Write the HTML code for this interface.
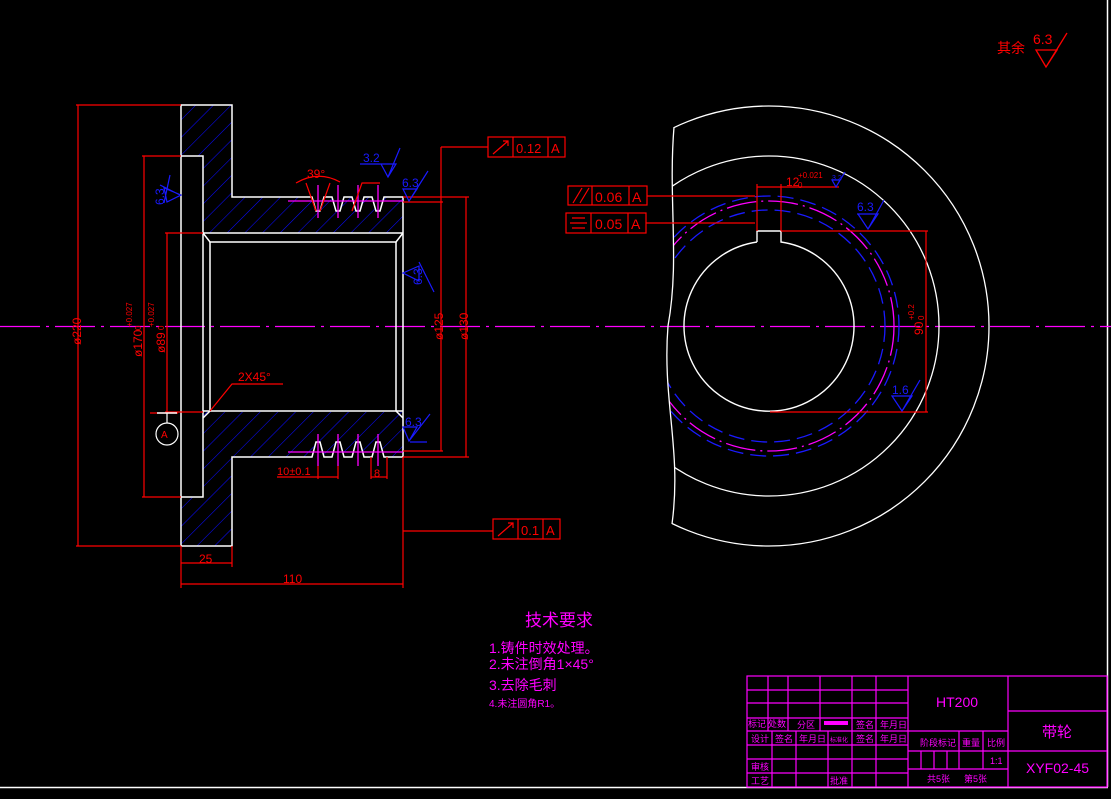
<!DOCTYPE html>
<html><head><meta charset="utf-8"><style>
html,body{margin:0;padding:0;background:#000;}
svg{display:block;}
text{font-family:"Liberation Sans","Noto Sans CJK SC",sans-serif;}
</style></head><body>
<svg width="1111" height="799" viewBox="0 0 1111 799" xmlns="http://www.w3.org/2000/svg">
<defs>
<pattern id="h" patternUnits="userSpaceOnUse" width="12.5" height="12.5" patternTransform="rotate(45)">
<line x1="0" y1="0" x2="0" y2="12.5" stroke="#0a0aff" stroke-width="1.1"/>
</pattern>
<clipPath id="rc"><path d="M674,100 L674,127 C668,200 680,260 668,326 C662,400 682,450 672,524 L672,560 L1000,560 L1000,100 Z"/></clipPath>
</defs>
<rect width="1111" height="799" fill="#000"/>
<line x1="1107.5" y1="0" x2="1107.5" y2="787" stroke="#fff" stroke-width="1.5"/>
<line x1="0" y1="787.5" x2="1108" y2="787.5" stroke="#fff" stroke-width="1.5"/>

<line x1="0" y1="326.5" x2="1111" y2="326.5" stroke="#ff00ff" stroke-width="1.3" stroke-dasharray="40,6,3,6"/>

<path d="M181,105 L232,105 L232,197 L403,197 L403,233 L203,233 L203,156 L181,156 Z" fill="url(#h)"/>
<path d="M181,546 L232,546 L232,457 L403,457 L403,412 L203,412 L203,497 L181,497 Z" fill="url(#h)"/>
<path d="M312,197 L316,211 L320,211 L324,197 L332,197 L336,211 L340,211 L344,197 L352,197 L356,211 L360,211 L364,197 L372,197 L376,211 L380,211 L384,197 Z" fill="#000"/>
<path d="M312,457 L316,442 L320,442 L324,457 L332,457 L336,442 L340,442 L344,457 L352,457 L356,442 L360,442 L364,457 L372,457 L376,442 L380,442 L384,457 Z" fill="#000"/>

<g stroke="#fff" stroke-width="1.5" fill="none">
<path d="M181,105 L232,105 L232,197 L312,197 L316,211 L320,211 L324,197 L332,197 L336,211 L340,211 L344,197 L352,197 L356,211 L360,211 L364,197 L372,197 L376,211 L380,211 L384,197 L403,197 L403,457 L384,457 L380,442 L376,442 L372,457 L364,457 L360,442 L356,442 L352,457 L344,457 L340,442 L336,442 L332,457 L324,457 L320,442 L316,442 L312,457 L232,457 L232,546 L181,546 Z"/>
<path d="M181,156 L203,156 L203,497 L181,497"/>
<line x1="203" y1="233" x2="403" y2="233"/>
<line x1="203" y1="411" x2="403" y2="411"/>
<path d="M203,233 L210,242 L396,242 L403,233"/>
<line x1="210" y1="242" x2="210" y2="411"/>
<line x1="396" y1="242" x2="396" y2="411"/>
<path d="M210,411 L203,418"/><path d="M396,411 L403,418"/>
</g>
<g stroke="#ff00ff" stroke-width="1.3">
<line x1="288" y1="201" x2="403" y2="201"/>
<line x1="288" y1="452" x2="403" y2="452"/>
<line x1="318" y1="185" x2="318" y2="218"/><line x1="338" y1="185" x2="338" y2="218"/>
<line x1="358" y1="185" x2="358" y2="218"/><line x1="378" y1="185" x2="378" y2="218"/>
<line x1="318" y1="434" x2="318" y2="466"/><line x1="338" y1="434" x2="338" y2="466"/>
<line x1="358" y1="434" x2="358" y2="466"/><line x1="378" y1="434" x2="378" y2="466"/>
</g>

<g stroke="#ff0000" stroke-width="1.2" fill="none">
<line x1="76" y1="105" x2="181" y2="105"/><line x1="76" y1="546" x2="181" y2="546"/>
<line x1="78" y1="105" x2="78" y2="546"/>
<line x1="142" y1="156" x2="181" y2="156"/><line x1="142" y1="497" x2="181" y2="497"/>
<line x1="144" y1="156" x2="144" y2="497"/>
<line x1="165" y1="233" x2="203" y2="233"/><line x1="165" y1="412" x2="203" y2="412"/>
<line x1="167" y1="233" x2="167" y2="412"/>
<line x1="403" y1="202" x2="443" y2="202"/><line x1="403" y1="451" x2="443" y2="451"/>
<line x1="441" y1="147" x2="441" y2="451"/>
<line x1="441" y1="147" x2="488" y2="147"/>
<line x1="403" y1="197" x2="469" y2="197"/><line x1="403" y1="457" x2="469" y2="457"/>
<line x1="466" y1="197" x2="466" y2="457"/>
<line x1="403" y1="457" x2="403" y2="588"/>
<line x1="403" y1="531" x2="493" y2="531"/>
<line x1="181" y1="546" x2="181" y2="588"/><line x1="232" y1="546" x2="232" y2="567"/>
<line x1="181" y1="563" x2="232" y2="563"/>
<line x1="181" y1="584" x2="403" y2="584"/>
<path d="M210,411 L232,384 L283,384"/>
<path d="M296,183 Q318,170 340,182"/>
<line x1="306" y1="183" x2="316" y2="211"/><line x1="330" y1="183" x2="320" y2="211"/>
<path d="M352,211 L362,183 L380,183"/>
<line x1="318" y1="466" x2="318" y2="479"/><line x1="338" y1="466" x2="338" y2="479"/>
<line x1="277" y1="477" x2="338" y2="477"/>
<line x1="371" y1="457" x2="371" y2="479"/><line x1="387" y1="457" x2="387" y2="479"/>
<line x1="371" y1="477" x2="387" y2="477"/>
<line x1="150" y1="413" x2="178" y2="413"/>
<rect x="488" y="137" width="77" height="20"/>
<line x1="513" y1="137" x2="513" y2="157"/><line x1="548" y1="137" x2="548" y2="157"/>
<path d="M493,154 L508,141 M503,141 L508,141 L508,146"/>
<rect x="493" y="519" width="67" height="20"/>
<line x1="518" y1="519" x2="518" y2="539"/><line x1="543" y1="519" x2="543" y2="539"/>
<path d="M498,536 L513,523 M508,523 L513,523 L513,528"/>
</g>
<circle cx="167" cy="434" r="11" stroke="#fff" stroke-width="1.2" fill="none"/>
<line x1="157" y1="413" x2="177" y2="413" stroke="#fff" stroke-width="1.5"/>
<line x1="167" y1="413" x2="167" y2="423" stroke="#fff" stroke-width="1.2"/>
<g fill="#ff0000" font-size="12">
<text x="161" y="438" font-size="10">A</text>
<text transform="translate(81,345) rotate(-90)">ø220</text>
<text transform="translate(142,357) rotate(-90)">ø170</text>
<text transform="translate(132,327) rotate(-90)" font-size="8">+0.027</text>
<text transform="translate(141,330) rotate(-90)" font-size="8">0</text>
<text transform="translate(165,353) rotate(-90)">ø89</text>
<text transform="translate(154,327) rotate(-90)" font-size="8">+0.027</text>
<text transform="translate(164,330) rotate(-90)" font-size="8">0</text>
<text transform="translate(443,340) rotate(-90)">ø125</text>
<text transform="translate(468,340) rotate(-90)">ø130</text>
<text x="238" y="381">2X45°</text>
<text x="307" y="178">39°</text>
<text x="277" y="475" font-size="11">10±0.1</text>
<text x="374" y="477" font-size="11">8</text>
<text x="199" y="563">25</text>
<text x="283" y="583">110</text>
<text x="516" y="153" font-size="13">0.12</text><text x="551" y="153" font-size="13">A</text>
<text x="521" y="535" font-size="13">0.1</text><text x="546" y="535" font-size="13">A</text>
</g>
<g stroke="#1a1aff" stroke-width="1.2" fill="none">
<path d="M181,195 L164,188 L167,202 Z M164,203 L170,175 M160,185 L180,195"/>
<path d="M381,164 L388,177 L396,164 Z M388,177 L400,148 M360,164 L396,164"/>
<path d="M403,189 L409,201 L417,189 Z M409,201 L428,171"/>
<path d="M403,273 L419,266 L419,281 Z M419,262 L434,292"/>
<path d="M403,427 L409,441 L417,427 Z M409,441 L430,414 M410,442 L427,442"/>
</g>
<g fill="#1a1aff" font-size="12">
<text transform="translate(164,205) rotate(-90)">6.3</text>
<text x="363" y="162">3.2</text>
<text x="402" y="187">6.3</text>
<text transform="translate(422,285) rotate(-90)">6.3</text>
<text x="405" y="426">6.3</text>
</g>

<g clip-path="url(#rc)" fill="none">
<circle cx="769" cy="326" r="220" stroke="#fff" stroke-width="1.3"/>
<circle cx="769" cy="326" r="170" stroke="#fff" stroke-width="1.3"/>
<circle cx="769" cy="326" r="130" stroke="#1a1aff" stroke-width="1.3" stroke-dasharray="16,7"/>
<circle cx="769" cy="326" r="116" stroke="#1a1aff" stroke-width="1.3" stroke-dasharray="16,7"/>
<circle cx="769" cy="326" r="125" stroke="#ff00ff" stroke-width="1.3" stroke-dasharray="30,5,2,5"/>
</g>
<path d="M674,127 C668,200 680,260 668,326 C662,400 682,450 672,524" stroke="#fff" stroke-width="1.3" fill="none"/>
<path d="M757,242 L757,231 L781,231 L781,242 A85,85 0 1 1 757,242" stroke="#fff" stroke-width="1.4" fill="none"/>
<g stroke="#ff0000" stroke-width="1.2" fill="none">
<line x1="757" y1="184" x2="757" y2="231"/><line x1="781" y1="184" x2="781" y2="231"/>
<line x1="757" y1="187" x2="839" y2="187"/>
<line x1="781" y1="231" x2="928" y2="231"/><line x1="770" y1="412" x2="928" y2="412"/>
<line x1="926" y1="231" x2="926" y2="412"/>
<rect x="568" y="186" width="79" height="19"/>
<line x1="592" y1="186" x2="592" y2="205"/><line x1="629" y1="186" x2="629" y2="205"/>
<line x1="647" y1="196" x2="755" y2="196"/>
<rect x="566" y="213" width="80" height="20"/>
<line x1="591" y1="213" x2="591" y2="233"/><line x1="628" y1="213" x2="628" y2="233"/>
<line x1="646" y1="223" x2="755" y2="223"/>
<path d="M573,203 L582,188 M580,203 L589,188"/>
<path d="M572,218 L585,218 M570,223 L587,223 M572,228 L585,228"/>
</g>
<g fill="#ff0000">
<text x="595" y="202" font-size="14">0.06</text><text x="632" y="202" font-size="14">A</text>
<text x="595" y="229" font-size="14">0.05</text><text x="631" y="229" font-size="14">A</text>
<text x="786" y="186" font-size="12">12</text>
<text x="798" y="178" font-size="8">+0.021</text>
<text x="798" y="188" font-size="8">0</text>
<text transform="translate(923,335) rotate(-90)" font-size="12">90</text>
<text transform="translate(914,320) rotate(-90)" font-size="8">+0.2</text>
<text transform="translate(924,320) rotate(-90)" font-size="8">0</text>
<text x="997" y="53" font-size="14">其余</text>
<text x="1033" y="44" font-size="14">6.3</text>
</g>
<path d="M1036,50 L1046,67 L1057,50 Z M1046,67 L1067,33" stroke="#ff0000" stroke-width="1.3" fill="none"/>
<g stroke="#1a1aff" stroke-width="1.2" fill="none">
<path d="M832,180 L836,187 L840,180 Z M836,187 L845,172"/>
<path d="M858,214 L868,229 L878,214 Z M868,229 L884,200 M857,214 L878,214"/>
<path d="M892,396 L902,411 L912,396 Z M902,411 L920,380"/>
</g>
<g fill="#1a1aff">
<text x="832" y="180" font-size="7">3.2</text>
<text x="857" y="211" font-size="12">6.3</text>
<text x="892" y="394" font-size="12">1.6</text>
</g>

<g fill="#ff00ff">
<text x="525" y="626" font-size="17">技术要求</text>
<text x="489" y="653" font-size="14">1.铸件时效处理。</text>
<text x="489" y="669" font-size="14">2.未注倒角1×45°</text>
<text x="489" y="690" font-size="14">3.去除毛刺</text>
<text x="489" y="707" font-size="10">4.未注圆角R1。</text>
</g>

<g stroke="#ff00ff" stroke-width="1.2" fill="none">
<rect x="747" y="676" width="360" height="111"/>
<line x1="747" y1="690" x2="908" y2="690"/><line x1="747" y1="703" x2="908" y2="703"/>
<line x1="747" y1="718" x2="908" y2="718"/><line x1="747" y1="731" x2="1008" y2="731"/>
<line x1="747" y1="745" x2="908" y2="745"/><line x1="747" y1="759" x2="908" y2="759"/>
<line x1="747" y1="773" x2="908" y2="773"/>
<line x1="768" y1="676" x2="768" y2="731"/><line x1="788" y1="676" x2="788" y2="731"/>
<line x1="820" y1="676" x2="820" y2="731"/>
<line x1="852" y1="676" x2="852" y2="787"/><line x1="876" y1="676" x2="876" y2="787"/>
<line x1="908" y1="676" x2="908" y2="787"/>
<line x1="772" y1="731" x2="772" y2="787"/><line x1="796" y1="731" x2="796" y2="787"/>
<line x1="828" y1="731" x2="828" y2="787"/>
<line x1="908" y1="751" x2="1008" y2="751"/><line x1="908" y1="769" x2="1008" y2="769"/>
<line x1="959" y1="731" x2="959" y2="769"/><line x1="983" y1="731" x2="983" y2="769"/>
<line x1="921" y1="751" x2="921" y2="769"/><line x1="934" y1="751" x2="934" y2="769"/><line x1="947" y1="751" x2="947" y2="769"/>
<line x1="1008" y1="676" x2="1008" y2="787"/>
<line x1="1008" y1="711" x2="1107" y2="711"/><line x1="1008" y1="751" x2="1107" y2="751"/>
</g>
<rect x="824" y="721" width="24" height="4" fill="#ff00ff"/>
<g fill="#ff00ff" font-size="9">
<text x="748" y="727">标记</text><text x="768" y="727">处数</text><text x="797" y="728">分区</text>
<text x="856" y="728">签名</text><text x="880" y="728">年月日</text>
<text x="751" y="742">设计</text><text x="775" y="742">签名</text><text x="799" y="742">年月日</text>
<text x="830" y="742" font-size="6">标准化</text><text x="856" y="742">签名</text><text x="880" y="742">年月日</text>
<text x="751" y="770">审核</text><text x="751" y="784">工艺</text><text x="830" y="784">批准</text>
<text x="920" y="746">阶段标记</text><text x="962" y="746">重量</text><text x="987" y="746">比例</text>
<text x="990" y="764">1:1</text>
<text x="927" y="782">共5张</text><text x="964" y="782">第5张</text>
<text x="936" y="707" font-size="14">HT200</text>
<text x="1042" y="737" font-size="15">带轮</text>
<text x="1026" y="773" font-size="14">XYF02-45</text>
</g>
</svg>
</body></html>
